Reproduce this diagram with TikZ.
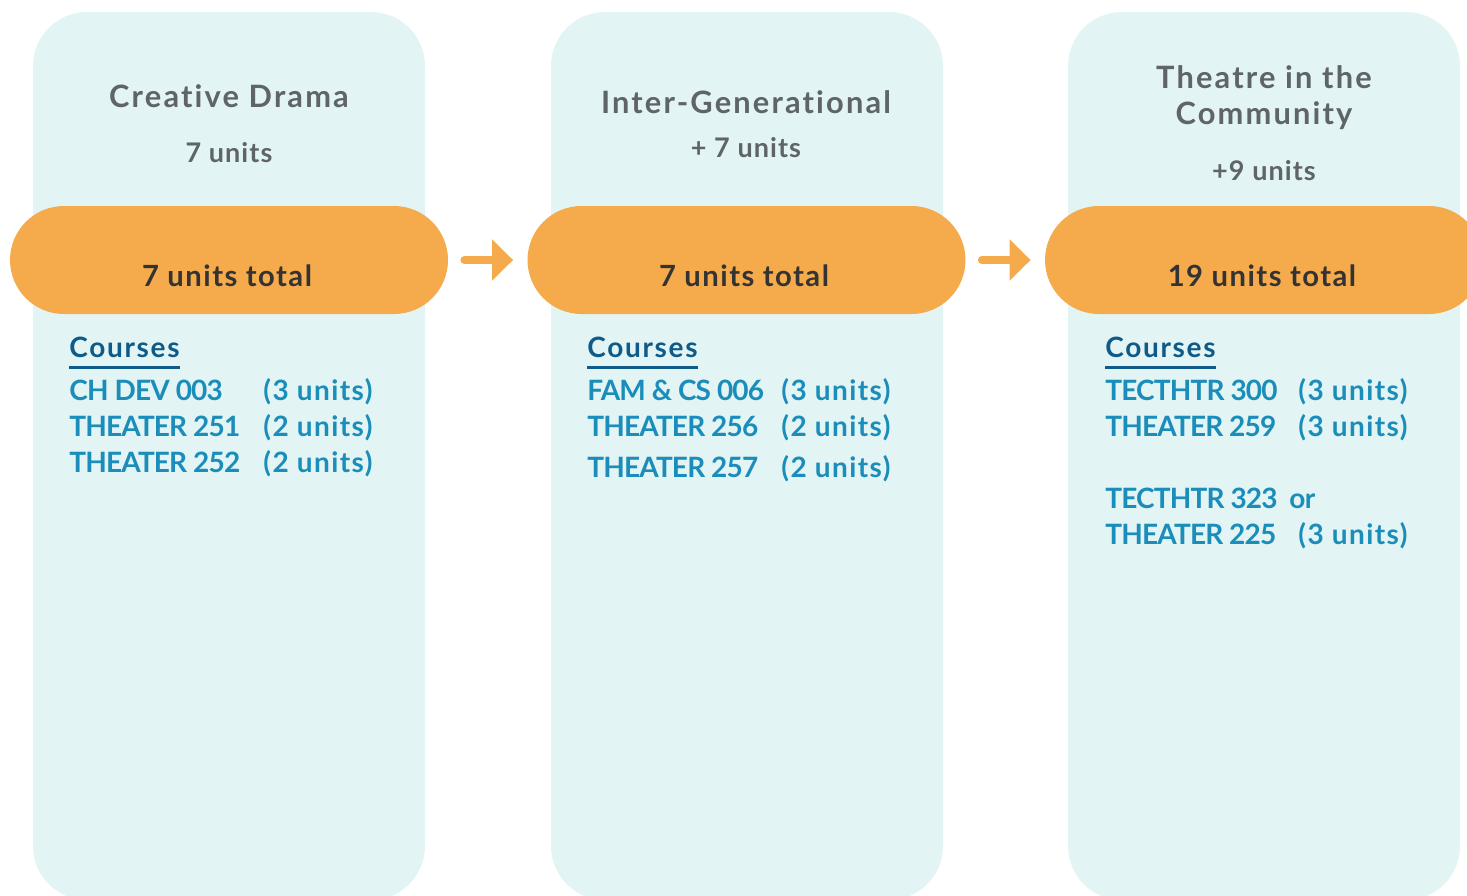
\documentclass[tikz,border=0pt]{standalone}
\usepackage{fontspec}
\setmainfont[Ligatures=NoCommon]{Lato}
\newfontfamily\headfont[LetterSpace=7,Ligatures=NoCommon]{Lato}
\newfontfamily\subfont[LetterSpace=4,Ligatures=NoCommon]{Lato}
\newfontfamily\totalfont[LetterSpace=5,Ligatures=NoCommon]{Lato}
\newfontfamily\crsheadfont[LetterSpace=6,Ligatures=NoCommon]{Lato}
\newfontfamily\codefont[LetterSpace=-3,Ligatures=NoCommon]{Lato}
\newfontfamily\unitfont[LetterSpace=5,Ligatures=NoCommon]{Lato}
\usetikzlibrary{arrows.meta}
\usetikzlibrary{positioning}

\definecolor{panelbg}{HTML}{E2F4F4}
\definecolor{pillorange}{HTML}{F5AB4C}
\definecolor{headgrey}{HTML}{5E6467}
\definecolor{totaldark}{HTML}{333333}
\definecolor{crsdark}{HTML}{0E5A88}
\definecolor{crsblue}{HTML}{1A8DBA}

\begin{document}
\begin{tikzpicture}
	[x=0.5pt, y=-0.5pt,
	panel/.style = {fill=panelbg, rounded corners=27pt},
	pill/.style = {fill=pillorange, minimum width=219pt, minimum height=54pt, rounded corners=27pt, inner sep=0pt},
	flow/.style = {draw=pillorange, line width=4pt, line cap=round, -{Triangle[length=10.5pt,width=20pt]}},
	head/.style = {anchor=base, text=headgrey, font=\headfont\bfseries\fontsize{15.4}{18}\selectfont},
	sub/.style = {anchor=base, text=headgrey, font=\subfont\bfseries\fontsize{13.5}{16}\selectfont},
	total/.style = {anchor=base, text=totaldark, font=\totalfont\bfseries\fontsize{14.6}{17}\selectfont},
	crs/.style = {anchor=base west, inner sep=0pt, text=crsblue, font=\codefont\bfseries\fontsize{14}{17}\selectfont},
	units/.style = {crs, font=\unitfont\bfseries\fontsize{14}{17}\selectfont},
	crshead/.style = {crs, text=crsdark, font=\crsheadfont\bfseries\fontsize{14}{17}\selectfont},
	uline/.style = {draw=crsdark, line width=1.5pt}
	]
	\useasboundingbox (0,0) rectangle (1467,895);

	% columns
	\fill[panel] (33,12) rectangle (425,900);
	\fill[panel] (551,12) rectangle (943,900);
	\fill[panel] (1068,12) rectangle (1460,900);

	\node[pill] (tot1) at (229,260) {};
	\node[pill] (tot2) at (746.5,260) {};
	\node[pill] (tot3) at (1264,260) {};

	\draw[flow] ([xshift=8pt]tot1.east) -- ([xshift=-7pt]tot2.west);
	\draw[flow] ([xshift=8pt]tot2.east) -- ([xshift=-7pt]tot3.west);

	% headings
	\node[head] (ttl1) at (229,107) {Creative Drama};
	\node[sub] (sub1) at (229,162) {7 units};
	\node[head] (ttl2) at (746,113) {Inter-Generational};
	\node[sub] (sub2) at (746,157) {+ 7 units};
	\node[head] (ttl3a) at (1264,88) {Theatre in the};
	\node[head] (ttl3b) at (1264,124) {Community};
	\node[sub] (sub3) at (1264,180) {+9 units};

	\node[total] (txt1) at (227,286) {7 units total};
	\node[total] (txt2) at (744,286) {7 units total};
	\node[total] (txt3) at (1262,286) {19 units total};

	% course lists
	\node[crshead] (crs1) at (69,357) {Courses};
	\draw[uline] ([yshift=-5.25pt]crs1.base west) -- ([yshift=-5.25pt]crs1.base east);
	\node[crs] (c1a) at (69,400) {CH DEV 003};
	\node[units] (u1a) at (263,400) {(3 units)};
	\node[crs] (c1b) at (69,436) {THEATER 251};
	\node[units] (u1b) at (263,436) {(2 units)};
	\node[crs] (c1c) at (69,472) {THEATER 252};
	\node[units] (u1c) at (263,472) {(2 units)};

	\node[crshead] (crs2) at (587,357) {Courses};
	\draw[uline] ([yshift=-5.25pt]crs2.base west) -- ([yshift=-5.25pt]crs2.base east);
	\node[crs] (c2a) at (587,400) {FAM \& CS 006};
	\node[units] (u2a) at (781,400) {(3 units)};
	\node[crs] (c2b) at (587,436) {THEATER 256};
	\node[units] (u2b) at (781,436) {(2 units)};
	\node[crs] (c2c) at (587,477) {THEATER 257};
	\node[units] (u2c) at (781,477) {(2 units)};

	\node[crshead] (crs3) at (1105,357) {Courses};
	\draw[uline] ([yshift=-5.25pt]crs3.base west) -- ([yshift=-5.25pt]crs3.base east);
	\node[crs] (c3a) at (1105,400) {TECTHTR 300};
	\node[units] (u3a) at (1298,400) {(3 units)};
	\node[crs] (c3b) at (1105,436) {THEATER 259};
	\node[units] (u3b) at (1298,436) {(3 units)};
	\node[crs] (c3c) at (1105,508) {TECTHTR 323\ \ or};
	\node[crs] (c3d) at (1105,544) {THEATER 225};
	\node[units] (u3d) at (1298,544) {(3 units)};
\end{tikzpicture}
\end{document}
